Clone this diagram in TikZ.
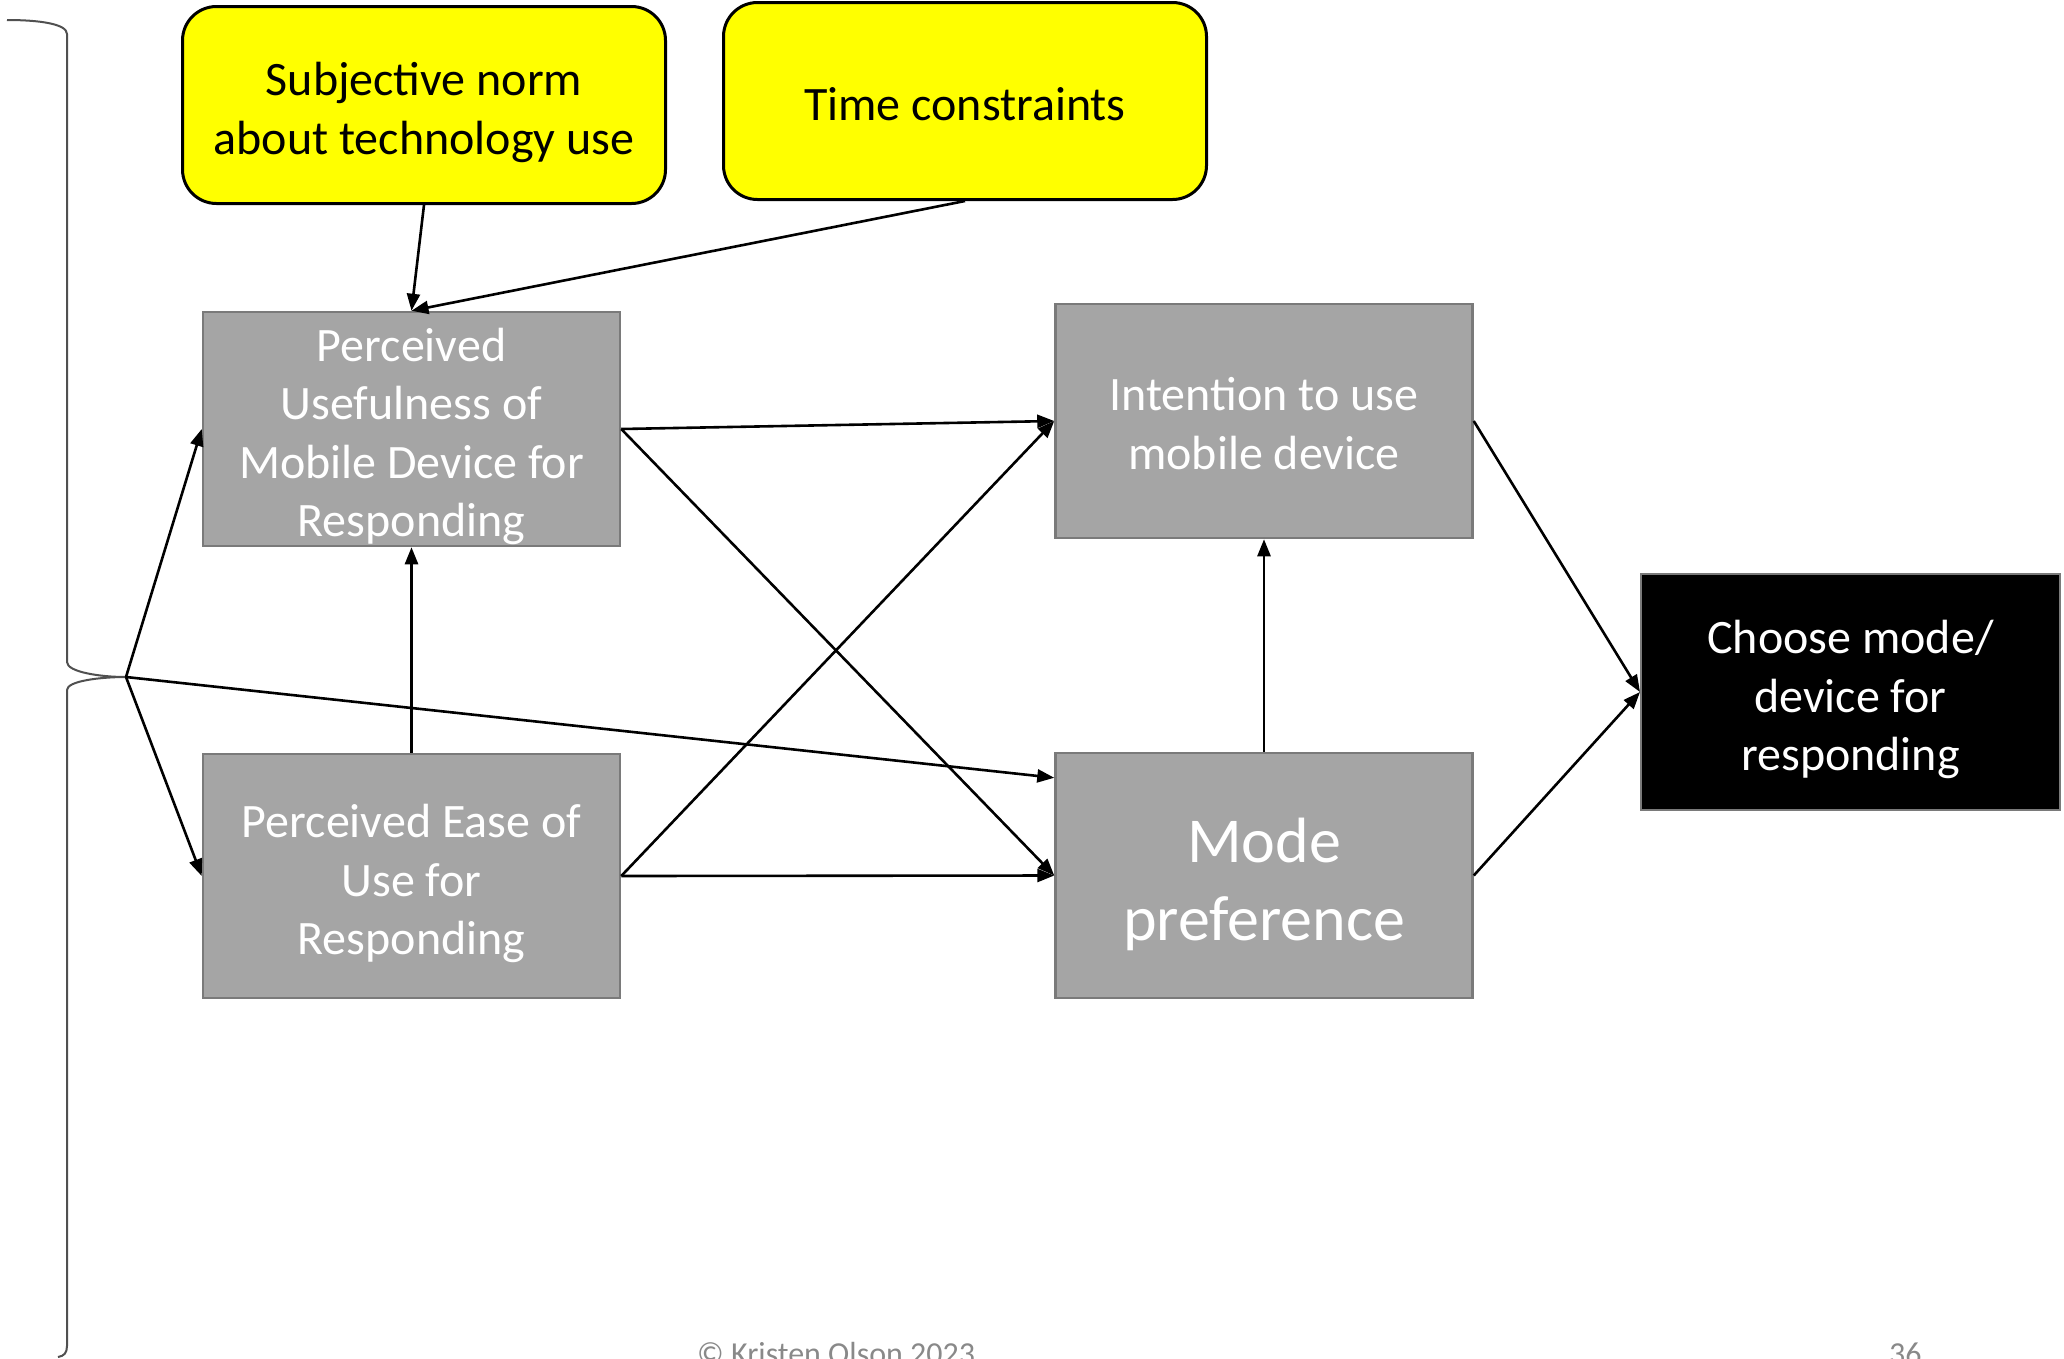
\documentclass[tikz,border=0pt]{standalone}
\usepackage{fontspec}
\setmainfont{Carlito}
\usetikzlibrary{arrows.meta,calc}
\definecolor{boxgray}{RGB}{165,165,165}
\definecolor{edgegray}{RGB}{122,122,122}
\definecolor{notegray}{RGB}{137,137,137}
\definecolor{bracegray}{RGB}{80,80,80}
\definecolor{noteyellow}{RGB}{255,255,0}
% fixed ascent for the first line of a label
\newcommand\linetop[1][40pt]{\rule{0pt}{#1}}
\begin{document}
\begin{tikzpicture}[x=1pt,y=-1pt,
  % a fixed depth below the last line keeps every label centred the same way
  factor/.style={draw=edgegray, line width=2.5pt, fill=boxgray, text=white,
    align=center, minimum width=417pt, minimum height=234pt, inner sep=0pt,
    text depth=0pt, font=\fontsize{48}{58.6}\selectfont},
  context/.style={draw=black, line width=3pt, fill=noteyellow, rounded corners=34pt,
    align=center, minimum width=483pt, minimum height=197pt, inner sep=0pt,
    text depth=0pt, font=\fontsize{48}{58.6}\selectfont},
  outcome/.style={draw=edgegray, line width=2pt, fill=black, text=white,
    align=center, minimum width=419pt, minimum height=236pt, inner sep=0pt,
    text depth=0pt, font=\fontsize{48}{58.6}\selectfont},
  link/.style={draw=black, line width=2.6pt, -{Triangle[length=17pt,width=13pt]}},
  bracestyle/.style={draw=bracegray, line width=2pt},
  footnote/.style={text=notegray, anchor=base west, inner sep=0pt,
    font=\fontsize{32}{38}\selectfont}]
\useasboundingbox (0,0) rectangle (2064,1358);

% contextual influences
\node[context] (norm) at (424,105) {\linetop Subjective norm\\about technology use};
\node[context] (time) at (965,101) {\linetop[38pt]Time constraints};

% model constructs
\node[factor] (pu) at (411.5,429) {\linetop Perceived\\Usefulness of\\Mobile Device for\\Responding};
\node[factor, minimum height=244pt] (peou) at (411.5,876) {\linetop Perceived Ease of\\Use for\\Responding};
\node[factor] (int) at (1264,421) {\linetop[38pt]Intention to use\\mobile device};
\node[factor, minimum height=245pt, font=\fontsize{64}{78}\selectfont] (mode) at (1264,875.5) {\linetop[52pt]Mode\\preference};
\node[outcome] (choose) at (1850.5,692) {\linetop Choose mode/\\device for\\responding};

% left brace grouping the external variables
\coordinate (tip) at (126,677);
\draw[bracestyle] (7,20) .. controls (40,20) and (67,24) .. (67,34) -- (67,662)
  .. controls (67,672) and (100,677) .. (tip)
  .. controls (100,677) and (67,681) .. (67,690) -- (67,1346)
  .. controls (67,1353) and (64,1356) .. (58,1357);

% paths from the brace
\draw[link] (tip) -- (pu.west);
\draw[link] (tip) -- (peou.west);
\draw[link] (tip) -- ($(mode.north west)+(0,26)$);

% paths from context boxes
\draw[link] (norm.south) -- (pu.north);
\draw[link] (time.south) -- (pu.north);

% model paths
\draw[link] (pu.east) -- (int.west);
\draw[link] (pu.east) -- (mode.west);
\draw[link] (peou.east) -- (int.west);
\draw[link] (peou.east) -- (mode.west);
\draw[link] (peou.north) -- (pu.south);
\draw[link] (mode.north) -- (int.south);
\draw[link] (int.east) -- (choose.west);
\draw[link] (mode.east) -- (choose.west);

% footer
\node[footnote] (credit) at (697,1364) {© Kristen Olson 2023};
\node[footnote] (page) at (1889,1364) {36};
\end{tikzpicture}
\end{document}
